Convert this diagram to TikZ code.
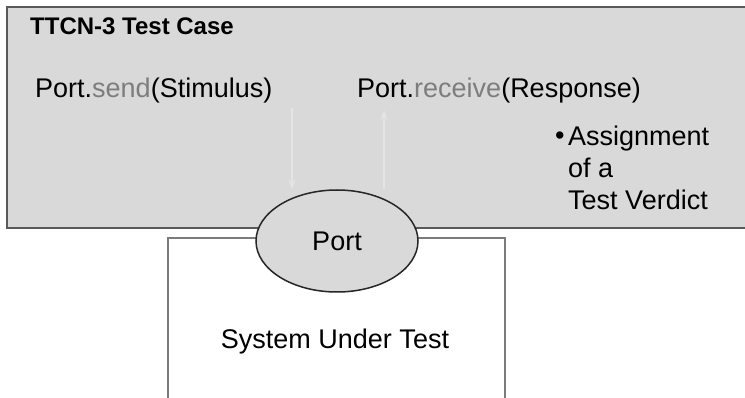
\documentclass[tikz,border=0pt]{standalone}
\usepackage{fontspec}
\setmainfont{Liberation Sans}
\usepackage{tikz}
\usetikzlibrary{shapes.geometric, arrows.meta, positioning}
\definecolor{casegray}{RGB}{217,217,217}
\definecolor{framegray}{RGB}{90,90,90}
\definecolor{opgray}{RGB}{125,125,125}
\definecolor{flowgray}{RGB}{228,228,228}

\begin{document}
\begin{tikzpicture}[
    x=1pt, y=-1pt,
    % Node styles
    label text/.style={font=\fontsize{27}{32}\selectfont, inner sep=0pt, anchor=west},
    testcase/.style={draw=framegray, fill=casegray, line width=1.3pt},
    sutbox/.style={draw=framegray!80, fill=white, line width=1.2pt},
    port/.style={ellipse, draw=black!85, fill=casegray, line width=1.5pt, minimum width=162pt, minimum height=102pt, inner sep=0pt, font=\fontsize{27}{32}\selectfont},
    flow/.style={-Stealth, flowgray, line width=1.5pt},
]
\useasboundingbox (0,0) rectangle (745,398);

% ============================================================================
% TEST CASE
% ============================================================================
\draw[testcase] (7,7) rectangle (760,228);
\node[font=\fontsize{24}{28}\selectfont\bfseries, inner sep=0pt, anchor=west] (title) at (30,26) {TTCN-3 Test Case};

\node[label text] (send) at (35,91) {Port.{\color{opgray}send}(Stimulus)};
\node[label text] (recv) at (357,91) {Port.{\color{opgray}receive}(Response)};

% Verdict
\node[label text] (bullet) at (555,138) {\textbullet};
\node[label text, align=left, anchor=north west] (verdict) at (568,126) {Assignment\\of a\\Test Verdict};

% ============================================================================
% SYSTEM UNDER TEST
% ============================================================================
\draw[sutbox] (168,238) rectangle (505,405);
\node[font=\fontsize{27}{32}\selectfont, inner sep=0pt] (sut) at (335,342) {System Under Test};

% Port
\node[port] (port) at (337,241) {Port};

% Faint message flows
\coordinate (sendtop) at (292,108);
\coordinate (recvtop) at (384,110);
\draw[flow] (sendtop) -- (sendtop |- port.north);
\draw[flow] (recvtop |- port.north) -- (recvtop);

\end{tikzpicture}
\end{document}
